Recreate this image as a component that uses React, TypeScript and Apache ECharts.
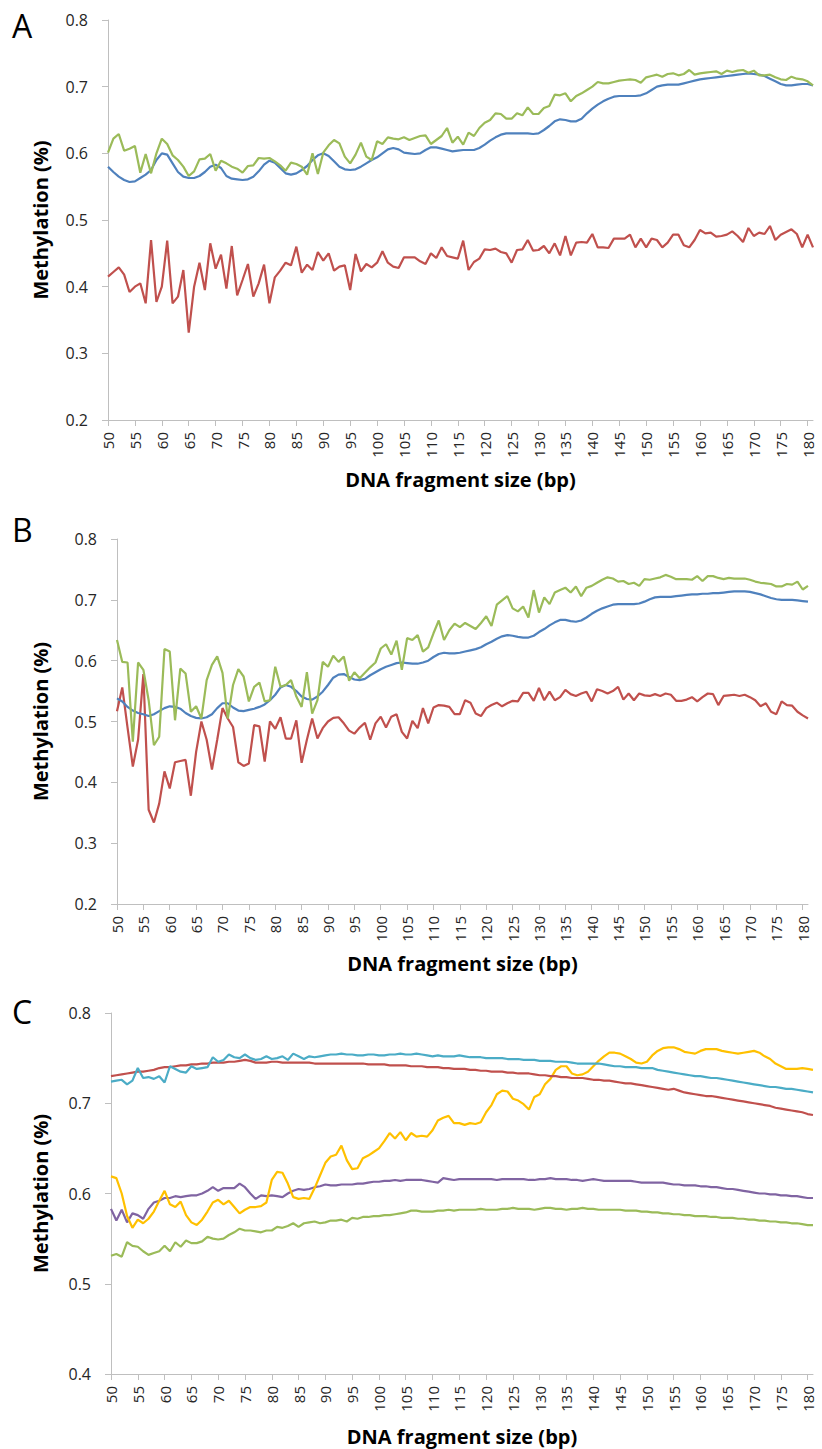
import React, { useEffect, useRef } from "react";
import * as echarts from "echarts";

// DNA fragment sizes (bp), 50 .. 181
const SIZES: string[] = [];
for (let s = 50; s <= 181; s++) SIZES.push(String(s));

// ---------- Panel A ----------
const A_BLUE = [
  0.580,0.572,0.565,0.560,0.557,0.558,0.563,0.568,0.575,0.590,
  0.600,0.598,0.585,0.572,0.565,0.563,0.563,0.566,0.572,0.580,
  0.583,0.578,0.566,0.562,0.561,0.560,0.561,0.565,0.573,0.583,
  0.589,0.586,0.578,0.570,0.568,0.570,0.575,0.581,0.590,0.597,
  0.600,0.596,0.588,0.580,0.576,0.575,0.576,0.580,0.585,0.590,
  0.594,0.600,0.606,0.608,0.606,0.601,0.600,0.599,0.600,0.605,
  0.609,0.609,0.607,0.605,0.603,0.604,0.605,0.605,0.605,0.608,
  0.613,0.619,0.624,0.628,0.630,0.630,0.630,0.630,0.630,0.629,
  0.630,0.635,0.641,0.648,0.651,0.650,0.648,0.648,0.652,0.660,
  0.667,0.673,0.678,0.682,0.685,0.686,0.686,0.686,0.686,0.687,
  0.690,0.695,0.700,0.702,0.703,0.703,0.703,0.705,0.707,0.709,
  0.711,0.712,0.713,0.714,0.715,0.716,0.717,0.718,0.719,0.720,
  0.719,0.718,0.716,0.712,0.708,0.704,0.702,0.702,0.703,0.704,
  0.704,0.702,
];
const A_GREEN = [
  0.601,0.622,0.629,0.604,0.607,0.611,0.571,0.599,0.570,0.600,
  0.622,0.614,0.597,0.590,0.580,0.566,0.573,0.591,0.592,0.599,
  0.574,0.589,0.585,0.580,0.577,0.571,0.581,0.582,0.593,0.592,
  0.593,0.588,0.582,0.574,0.586,0.584,0.580,0.568,0.600,0.569,
  0.601,0.612,0.620,0.615,0.595,0.585,0.598,0.616,0.595,0.590,
  0.618,0.614,0.624,0.622,0.621,0.624,0.620,0.623,0.626,0.627,
  0.614,0.620,0.626,0.638,0.616,0.625,0.613,0.631,0.626,0.638,
  0.646,0.650,0.660,0.659,0.652,0.652,0.660,0.657,0.669,0.659,
  0.659,0.668,0.671,0.688,0.687,0.690,0.678,0.686,0.690,0.695,
  0.700,0.707,0.705,0.705,0.707,0.709,0.710,0.711,0.710,0.706,
  0.714,0.716,0.718,0.715,0.719,0.720,0.717,0.719,0.725,0.718,
  0.720,0.721,0.722,0.723,0.719,0.724,0.722,0.724,0.725,0.721,
  0.724,0.717,0.717,0.718,0.714,0.711,0.710,0.715,0.712,0.711,
  0.708,0.702,
];
const A_RED = [
  0.415,0.422,0.429,0.418,0.392,0.400,0.405,0.375,0.470,0.377,
  0.400,0.469,0.375,0.385,0.425,0.331,0.400,0.436,0.395,0.465,
  0.427,0.448,0.397,0.461,0.387,0.410,0.434,0.385,0.405,0.433,
  0.375,0.414,0.424,0.436,0.432,0.460,0.421,0.433,0.425,0.452,
  0.439,0.450,0.424,0.430,0.432,0.395,0.449,0.423,0.434,0.429,
  0.436,0.453,0.436,0.430,0.428,0.444,0.444,0.444,0.438,0.434,
  0.450,0.443,0.459,0.446,0.444,0.442,0.469,0.425,0.437,0.442,
  0.456,0.455,0.457,0.452,0.450,0.436,0.455,0.456,0.470,0.454,
  0.455,0.461,0.450,0.465,0.447,0.476,0.447,0.466,0.467,0.466,
  0.479,0.459,0.459,0.458,0.472,0.472,0.472,0.478,0.459,0.472,
  0.459,0.472,0.470,0.459,0.466,0.478,0.478,0.462,0.459,0.470,
  0.485,0.480,0.481,0.475,0.476,0.478,0.483,0.476,0.467,0.488,
  0.476,0.481,0.479,0.491,0.470,0.478,0.482,0.486,0.479,0.459,
  0.478,0.459,
];

// ---------- Panel B ----------
const B_BLUE = [
  0.538,0.533,0.524,0.518,0.514,0.512,0.509,0.512,0.517,0.522,
  0.525,0.524,0.521,0.514,0.509,0.506,0.505,0.507,0.512,0.522,
  0.530,0.530,0.523,0.518,0.517,0.519,0.521,0.524,0.528,0.535,
  0.544,0.556,0.560,0.557,0.550,0.541,0.537,0.536,0.541,0.549,
  0.560,0.572,0.577,0.578,0.573,0.569,0.568,0.570,0.576,0.581,
  0.586,0.590,0.593,0.596,0.597,0.596,0.595,0.595,0.597,0.600,
  0.606,0.611,0.613,0.612,0.612,0.613,0.615,0.617,0.619,0.622,
  0.627,0.631,0.636,0.640,0.642,0.641,0.639,0.638,0.638,0.641,
  0.647,0.652,0.658,0.663,0.667,0.667,0.665,0.664,0.666,0.671,
  0.677,0.682,0.686,0.689,0.692,0.693,0.693,0.693,0.693,0.694,
  0.697,0.701,0.704,0.705,0.705,0.705,0.706,0.707,0.708,0.709,
  0.709,0.710,0.710,0.711,0.711,0.712,0.713,0.714,0.714,0.714,
  0.713,0.711,0.709,0.706,0.703,0.701,0.700,0.700,0.700,0.699,
  0.698,0.697,
];
const B_GREEN = [
  0.634,0.598,0.597,0.467,0.597,0.585,0.535,0.461,0.475,0.619,
  0.615,0.502,0.587,0.579,0.516,0.525,0.505,0.568,0.593,0.607,
  0.580,0.505,0.560,0.586,0.574,0.533,0.557,0.564,0.533,0.535,
  0.590,0.557,0.560,0.568,0.541,0.524,0.581,0.513,0.535,0.598,
  0.590,0.608,0.598,0.607,0.567,0.581,0.571,0.580,0.589,0.597,
  0.620,0.627,0.610,0.633,0.585,0.637,0.634,0.642,0.615,0.622,
  0.645,0.666,0.634,0.650,0.661,0.655,0.662,0.657,0.652,0.662,
  0.673,0.657,0.692,0.699,0.706,0.686,0.681,0.689,0.671,0.716,
  0.679,0.704,0.693,0.712,0.716,0.720,0.712,0.722,0.706,0.720,
  0.723,0.728,0.733,0.737,0.735,0.730,0.731,0.726,0.728,0.723,
  0.734,0.733,0.735,0.737,0.741,0.738,0.734,0.734,0.734,0.733,
  0.739,0.731,0.739,0.739,0.736,0.734,0.736,0.735,0.735,0.735,
  0.733,0.730,0.728,0.727,0.726,0.722,0.722,0.726,0.725,0.730,
  0.717,0.723,
];
const B_RED = [
  0.517,0.556,0.490,0.426,0.470,0.578,0.355,0.334,0.365,0.418,
  0.390,0.433,0.435,0.437,0.378,0.450,0.500,0.470,0.421,0.470,
  0.522,0.505,0.491,0.433,0.427,0.431,0.494,0.492,0.434,0.500,
  0.488,0.507,0.472,0.472,0.502,0.432,0.470,0.505,0.472,0.489,
  0.500,0.506,0.507,0.497,0.485,0.480,0.490,0.498,0.470,0.497,
  0.508,0.490,0.508,0.512,0.483,0.472,0.501,0.489,0.522,0.497,
  0.523,0.527,0.526,0.524,0.512,0.512,0.535,0.531,0.513,0.509,
  0.522,0.527,0.531,0.525,0.530,0.534,0.533,0.547,0.547,0.534,
  0.555,0.535,0.549,0.535,0.540,0.552,0.545,0.542,0.546,0.549,
  0.533,0.553,0.550,0.546,0.550,0.557,0.536,0.546,0.535,0.546,
  0.543,0.542,0.545,0.542,0.546,0.544,0.534,0.534,0.536,0.540,
  0.533,0.540,0.546,0.545,0.527,0.542,0.543,0.544,0.542,0.544,
  0.540,0.535,0.525,0.530,0.516,0.512,0.533,0.527,0.526,0.516,
  0.510,0.505,
];

// ---------- Panel C ----------
const C_CYAN = [
  0.724,0.725,0.726,0.721,0.725,0.739,0.728,0.729,0.727,0.730,
  0.723,0.741,0.738,0.735,0.734,0.741,0.738,0.739,0.740,0.751,
  0.746,0.748,0.754,0.751,0.750,0.754,0.750,0.748,0.749,0.752,
  0.749,0.750,0.752,0.748,0.755,0.752,0.749,0.752,0.751,0.752,
  0.753,0.754,0.754,0.755,0.754,0.754,0.753,0.753,0.754,0.754,
  0.753,0.753,0.754,0.754,0.755,0.754,0.754,0.755,0.754,0.753,
  0.752,0.753,0.752,0.752,0.752,0.753,0.752,0.751,0.751,0.751,
  0.750,0.750,0.750,0.750,0.749,0.749,0.749,0.748,0.748,0.748,
  0.747,0.747,0.747,0.746,0.746,0.746,0.745,0.744,0.744,0.744,
  0.744,0.744,0.743,0.742,0.741,0.741,0.740,0.740,0.740,0.739,
  0.739,0.739,0.737,0.736,0.735,0.734,0.733,0.732,0.731,0.730,
  0.730,0.729,0.728,0.728,0.727,0.726,0.725,0.724,0.723,0.722,
  0.721,0.720,0.719,0.718,0.718,0.717,0.716,0.716,0.715,0.714,
  0.713,0.712,
];
const C_RED = [
  0.730,0.731,0.732,0.733,0.734,0.735,0.735,0.736,0.737,0.739,
  0.740,0.740,0.741,0.742,0.742,0.743,0.743,0.744,0.744,0.745,
  0.745,0.745,0.746,0.746,0.747,0.748,0.747,0.745,0.745,0.745,
  0.746,0.746,0.745,0.745,0.745,0.745,0.745,0.745,0.744,0.744,
  0.744,0.744,0.744,0.744,0.744,0.744,0.744,0.744,0.743,0.743,
  0.743,0.743,0.742,0.742,0.742,0.742,0.741,0.741,0.741,0.740,
  0.740,0.740,0.739,0.739,0.738,0.738,0.738,0.737,0.737,0.736,
  0.736,0.735,0.735,0.735,0.734,0.734,0.733,0.733,0.733,0.732,
  0.731,0.731,0.730,0.730,0.729,0.729,0.728,0.728,0.728,0.727,
  0.726,0.726,0.725,0.725,0.724,0.723,0.722,0.722,0.721,0.720,
  0.719,0.718,0.717,0.716,0.715,0.716,0.714,0.712,0.711,0.710,
  0.709,0.708,0.708,0.707,0.706,0.705,0.704,0.703,0.702,0.701,
  0.700,0.699,0.698,0.697,0.695,0.694,0.693,0.692,0.691,0.690,
  0.688,0.687,
];
const C_YELLOW = [
  0.619,0.617,0.600,0.575,0.562,0.571,0.567,0.572,0.580,0.592,
  0.603,0.588,0.585,0.591,0.576,0.568,0.565,0.571,0.580,0.590,
  0.593,0.588,0.592,0.585,0.578,0.582,0.585,0.585,0.586,0.590,
  0.615,0.624,0.623,0.611,0.596,0.594,0.595,0.594,0.606,0.620,
  0.634,0.641,0.643,0.653,0.637,0.627,0.628,0.639,0.642,0.646,
  0.650,0.658,0.667,0.661,0.668,0.659,0.667,0.663,0.664,0.663,
  0.670,0.681,0.684,0.686,0.678,0.678,0.676,0.678,0.677,0.679,
  0.690,0.698,0.710,0.714,0.713,0.705,0.703,0.699,0.693,0.707,
  0.710,0.721,0.727,0.737,0.741,0.741,0.733,0.731,0.732,0.735,
  0.741,0.747,0.752,0.756,0.756,0.755,0.752,0.749,0.745,0.744,
  0.746,0.753,0.758,0.761,0.762,0.762,0.760,0.757,0.756,0.755,
  0.758,0.760,0.760,0.760,0.758,0.757,0.756,0.755,0.756,0.757,
  0.758,0.756,0.752,0.749,0.744,0.741,0.738,0.738,0.738,0.739,
  0.738,0.737,
];
const C_PURPLE = [
  0.583,0.570,0.582,0.568,0.578,0.576,0.572,0.583,0.590,0.592,
  0.595,0.595,0.597,0.596,0.597,0.598,0.598,0.600,0.603,0.607,
  0.603,0.606,0.606,0.606,0.611,0.607,0.600,0.594,0.598,0.597,
  0.598,0.597,0.596,0.600,0.603,0.605,0.604,0.605,0.607,0.608,
  0.610,0.609,0.609,0.610,0.610,0.610,0.611,0.611,0.612,0.613,
  0.613,0.614,0.614,0.615,0.614,0.615,0.615,0.615,0.615,0.614,
  0.613,0.612,0.617,0.616,0.615,0.616,0.616,0.616,0.616,0.616,
  0.616,0.616,0.615,0.616,0.616,0.616,0.616,0.616,0.615,0.615,
  0.616,0.616,0.617,0.616,0.616,0.616,0.615,0.615,0.614,0.615,
  0.616,0.615,0.614,0.614,0.614,0.614,0.614,0.614,0.613,0.612,
  0.612,0.612,0.612,0.612,0.611,0.610,0.610,0.609,0.609,0.609,
  0.608,0.608,0.607,0.607,0.606,0.605,0.605,0.604,0.603,0.602,
  0.601,0.600,0.600,0.599,0.599,0.598,0.598,0.597,0.597,0.596,
  0.595,0.595,
];
const C_GREEN = [
  0.531,0.533,0.530,0.546,0.542,0.541,0.536,0.532,0.534,0.536,
  0.542,0.536,0.546,0.541,0.548,0.545,0.545,0.547,0.552,0.550,
  0.549,0.550,0.554,0.557,0.561,0.559,0.559,0.558,0.557,0.559,
  0.559,0.563,0.562,0.564,0.567,0.563,0.567,0.568,0.569,0.567,
  0.568,0.570,0.570,0.571,0.569,0.573,0.572,0.574,0.574,0.575,
  0.575,0.576,0.576,0.577,0.578,0.579,0.581,0.581,0.580,0.580,
  0.580,0.581,0.581,0.582,0.581,0.582,0.582,0.582,0.582,0.583,
  0.582,0.582,0.582,0.583,0.583,0.584,0.583,0.583,0.583,0.582,
  0.583,0.584,0.584,0.583,0.583,0.582,0.583,0.583,0.584,0.583,
  0.583,0.582,0.582,0.582,0.582,0.582,0.581,0.581,0.581,0.580,
  0.580,0.579,0.579,0.578,0.578,0.577,0.577,0.576,0.576,0.575,
  0.575,0.575,0.574,0.574,0.573,0.573,0.573,0.572,0.572,0.571,
  0.571,0.570,0.570,0.569,0.569,0.568,0.568,0.567,0.567,0.566,
  0.565,0.565,
];

const PANEL_LETTERS = ["A", "B", "C"];
const Y_MIN = [0.2, 0.2, 0.4];
const Y_MAX = [0.8, 0.8, 0.8];
const X_TITLE = "DNA fragment size (bp)";
const Y_TITLE = "Methylation (%)";

const COL = {
  blue: "#4F81BD",
  red: "#C0504D",
  green: "#9BBB59",
  cyan: "#4BACC6",
  yellow: "#FFC000",
  purple: "#8064A2",
};

const GRIDS = [
  { left: 108, top: 20, width: 705, height: 400, xGap: 49, yGap: 58, letterY: 26 },
  { left: 117, top: 539, width: 691, height: 365, xGap: 49, yGap: 67, letterY: 530 },
  { left: 111, top: 1013, width: 702, height: 361, xGap: 52, yGap: 61, letterY: 1012 },
];

const AXIS_COLOR = "#BFBFBF";
const FONT = "'Open Sans', 'Noto Sans', sans-serif";

export default function App() {
  const ref = useRef<HTMLDivElement>(null);

  useEffect(() => {
    if (!ref.current) return;
    const chart = echarts.init(ref.current, null, { renderer: "svg" });
    const every5 = (i: number) => i % 5 === 0;

    const xAxis = GRIDS.map((g, i) => ({
      type: "category",
      gridIndex: i,
      data: SIZES,
      boundaryGap: false,
      axisLine: { lineStyle: { color: AXIS_COLOR, width: 1 } },
      axisTick: { show: true, interval: every5, length: 6, lineStyle: { color: AXIS_COLOR } },
      axisLabel: {
        interval: every5,
        rotate: 90,
        margin: 12,
        fontSize: 15,
        color: "#262626",
        fontFamily: FONT,
      },
      splitLine: { show: false },
      name: X_TITLE,
      nameLocation: "middle",
      nameGap: g.xGap,
      nameTextStyle: { fontSize: 20, fontWeight: "bold", color: "#000", fontFamily: FONT },
    }));

    const yAxis = GRIDS.map((g, i) => ({
      type: "value",
      gridIndex: i,
      min: Y_MIN[i],
      max: Y_MAX[i],
      interval: 0.1,
      axisLine: { show: true, lineStyle: { color: AXIS_COLOR, width: 1 } },
      axisTick: { show: true, length: 6, lineStyle: { color: AXIS_COLOR } },
      axisLabel: {
        margin: 20,
        fontSize: 16,
        color: "#262626",
        fontFamily: FONT,
        formatter: (v: number) => v.toFixed(1),
      },
      splitLine: { show: false },
      name: Y_TITLE,
      nameLocation: "middle",
      nameRotate: 90,
      nameGap: g.yGap,
      nameTextStyle: { fontSize: 20, fontWeight: "bold", color: "#000", fontFamily: FONT },
    }));

    const line = (name: string, data: number[], color: string, idx: number) => ({
      name,
      type: "line",
      xAxisIndex: idx,
      yAxisIndex: idx,
      data,
      showSymbol: false,
      symbol: "none",
      smooth: false,
      lineStyle: { color, width: 2.2 },
      itemStyle: { color },
    });

    const series = [
      line("A red", A_RED, COL.red, 0),
      line("A blue", A_BLUE, COL.blue, 0),
      line("A green", A_GREEN, COL.green, 0),
      line("B red", B_RED, COL.red, 1),
      line("B blue", B_BLUE, COL.blue, 1),
      line("B green", B_GREEN, COL.green, 1),
      line("C green", C_GREEN, COL.green, 2),
      line("C purple", C_PURPLE, COL.purple, 2),
      line("C yellow", C_YELLOW, COL.yellow, 2),
      line("C red", C_RED, COL.red, 2),
      line("C cyan", C_CYAN, COL.cyan, 2),
    ];

    chart.setOption({
      animation: false,
      backgroundColor: "#ffffff",
      grid: GRIDS.map((g) => ({ left: g.left, top: g.top, width: g.width, height: g.height, containLabel: false })),
      xAxis,
      yAxis,
      series,
      graphic: GRIDS.map((g, i) => ({
        type: "text",
        left: 12,
        top: g.letterY - 17,
        style: {
          text: PANEL_LETTERS[i],
          fontSize: 32,
          fontFamily: FONT,
          fill: "#000",
        },
      })),
    });

    return () => chart.dispose();
  }, []);

  return (
    <div
      ref={ref}
      style={{ position: "absolute", left: 0, top: 0, width: 822, height: 1449, background: "#fff" }}
    />
  );
}
